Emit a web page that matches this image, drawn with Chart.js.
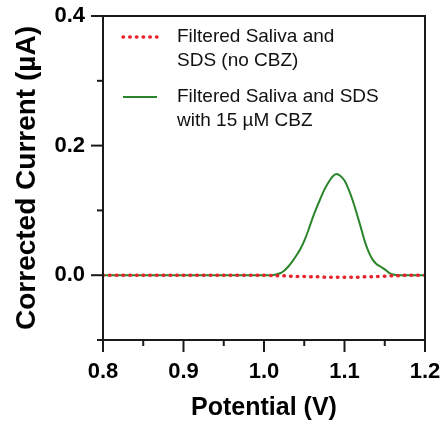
<!DOCTYPE html>
<html lang="en">
<head>
  <meta charset="UTF-8" />
  <title>Corrected Current vs Potential</title>
  <script src="https://cdn.jsdelivr.net/npm/chart.js"></script>
  <style>
    html, body { margin: 0; padding: 0; background: #fff; }
    #wrap { width: 445px; height: 423px; }
  </style>
</head>
<body>
  <div id="wrap"><canvas id="dpvChart" width="445" height="423"></canvas></div>

  <script>
    // potential (V) shared by both traces
    const potential = [0.80, 0.85, 0.90, 0.95, 1.00, 1.01, 1.015, 1.02, 1.025, 1.03, 1.035, 1.04, 1.045,
      1.05, 1.055, 1.06, 1.065, 1.07, 1.075, 1.08, 1.085, 1.09, 1.095, 1.10, 1.105, 1.11, 1.115, 1.12,
      1.125, 1.13, 1.135, 1.14, 1.145, 1.15, 1.155, 1.16, 1.17, 1.18, 1.19, 1.20];

    // corrected current (uA)
    const noCbz = [0, 0, 0, 0, 0, -0.0005, -0.001, -0.001, -0.001, -0.0015, -0.0015, -0.002, -0.002,
      -0.002, -0.002, -0.0025, -0.0025, -0.0025, -0.003, -0.003, -0.003, -0.003, -0.003, -0.003, -0.003,
      -0.003, -0.003, -0.003, -0.0025, -0.0025, -0.0025, -0.002, -0.002, -0.0015, -0.001, -0.001, -0.0005,
      0, 0, 0];
    const withCbz = [0, 0, 0, 0, 0, 0, 0.001, 0.003, 0.007, 0.013, 0.021, 0.030, 0.040,
      0.053, 0.069, 0.087, 0.103, 0.118, 0.132, 0.143, 0.152, 0.156, 0.153, 0.146, 0.133, 0.116, 0.096, 0.075,
      0.053, 0.036, 0.024, 0.017, 0.013, 0.009, 0.004, 0.001, 0, 0, 0, 0];

    const seriesLabels = [["Filtered Saliva and", "SDS (no CBZ)"], ["Filtered Saliva and SDS", "with 15 \u00b5M CBZ"]];
    const xTickLabels = ["0.8", "0.9", "1.0", "1.1", "1.2"];
    const yTickLabels = ["0.0", "0.2", "0.4"];

    const FONT = "'Liberation Sans', Arial, Helvetica, sans-serif";
    const AXIS = '#1a1a1a';

    const isMajor = (v, step) => Math.abs(v / step - Math.round(v / step)) < 1e-6;

    // frame, outward ticks and the two-line legend
    const framePlugin = {
      id: 'frame',
      afterDraw(chart) {
        const { ctx, chartArea: a, scales } = chart;
        ctx.save();
        ctx.strokeStyle = AXIS;
        ctx.lineWidth = 2;
        ctx.strokeRect(a.left, a.top, a.right - a.left, a.bottom - a.top);

        scales.x.ticks.forEach(t => {
          const px = scales.x.getPixelForValue(t.value);
          const len = isMajor(t.value, 0.1) ? 12 : 6;
          ctx.beginPath();
          ctx.moveTo(px, a.bottom);
          ctx.lineTo(px, a.bottom + len);
          ctx.stroke();
        });
        scales.y.ticks.forEach(t => {
          const py = scales.y.getPixelForValue(t.value);
          const len = isMajor(t.value, 0.2) ? 12 : 6;
          ctx.beginPath();
          ctx.moveTo(a.left, py);
          ctx.lineTo(a.left - len, py);
          ctx.stroke();
        });

        // legend
        const rows = [a.top + 21, a.top + 81];
        ctx.font = '19px ' + FONT;
        ctx.textBaseline = 'middle';
        ctx.fillStyle = '#111';
        chart.data.datasets.forEach((ds, i) => {
          const y = rows[i];
          ctx.beginPath();
          ctx.strokeStyle = ds.borderColor;
          ctx.lineWidth = ds.borderWidth;
          ctx.lineCap = ds.borderCapStyle || 'butt';
          ctx.setLineDash(ds.borderDash || []);
          ctx.moveTo(a.left + 20, y);
          ctx.lineTo(a.left + 54, y);
          ctx.stroke();
          ctx.setLineDash([]);
          seriesLabels[i].forEach((line, j) => {
            ctx.fillText(line, a.left + 74, y + j * 24);
          });
        });
        ctx.restore();
      }
    };

    new Chart(document.getElementById('dpvChart'), {
      type: 'line',
      data: {
        datasets: [
          {
            label: seriesLabels[0].join(' '),
            data: potential.map((x, i) => ({ x, y: noCbz[i] })),
            borderColor: '#e8232b',
            borderWidth: 3.5,
            borderDash: [0.5, 6.2],
            borderCapStyle: 'round',
            pointRadius: 0,
            tension: 0.3
          },
          {
            label: seriesLabels[1].join(' '),
            data: potential.map((x, i) => ({ x, y: withCbz[i] })),
            borderColor: '#2a852a',
            borderWidth: 2,
            pointRadius: 0,
            cubicInterpolationMode: 'monotone'
          }
        ]
      },
      options: {
        responsive: false,
        animation: false,
        layout: { padding: { left: 0, right: 20, top: 16, bottom: 0 } },
        plugins: { legend: { display: false }, tooltip: { enabled: false } },
        scales: {
          x: {
            type: 'linear',
            min: 0.8,
            max: 1.2,
            grid: { display: false, drawTicks: false },
            border: { display: false },
            afterFit: s => { s.height = 83; s.paddingLeft = 0; s.paddingRight = 0; },
            afterBuildTicks: s => {
              s.ticks = [];
              for (let k = 0; k <= 8; k++) s.ticks.push({ value: +(0.8 + k * 0.05).toFixed(2) });
            },
            ticks: {
              autoSkip: false,
              maxRotation: 0,
              padding: 19,
              color: '#000',
              font: { family: FONT, size: 22, weight: 'bold' },
              callback: v => {
                const lbl = (+v).toFixed(1);
                return isMajor(v, 0.1) && xTickLabels.includes(lbl) ? lbl : '';
              }
            },
            title: {
              display: true,
              text: 'Potential (V)',
              color: '#000',
              padding: { top: 0, bottom: 0 },
              font: { family: FONT, size: 25, weight: 'bold' }
            }
          },
          y: {
            min: -0.1,
            max: 0.4,
            grid: { display: false, drawTicks: false },
            border: { display: false },
            afterFit: s => { s.width = 103; s.paddingTop = 0; s.paddingBottom = 0; },
            afterBuildTicks: s => {
              s.ticks = [];
              for (let k = 0; k <= 5; k++) s.ticks.push({ value: +(-0.1 + k * 0.1).toFixed(2) });
            },
            ticks: {
              autoSkip: false,
              padding: 18,
              color: '#000',
              font: { family: FONT, size: 22, weight: 'bold' },
              callback: v => {
                const lbl = (+v).toFixed(1);
                return isMajor(v, 0.2) && yTickLabels.includes(lbl) ? lbl : '';
              }
            },
            title: {
              display: true,
              text: 'Corrected Current (\u00b5A)',
              color: '#000',
              padding: { top: 10, bottom: 0 },
              font: { family: FONT, size: 28, weight: 'bold' }
            }
          }
        }
      },
      plugins: [framePlugin]
    });
  </script>
</body>
</html>
